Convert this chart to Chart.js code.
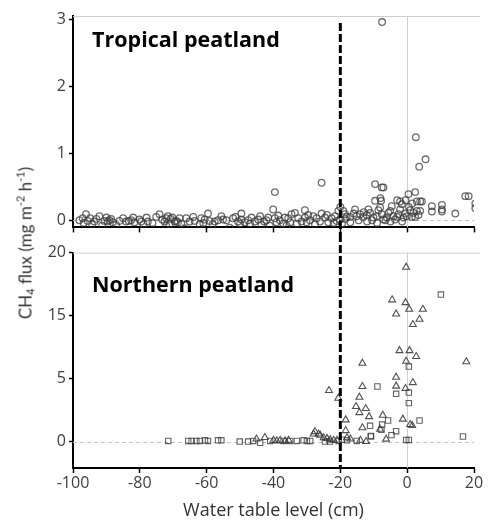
<!DOCTYPE html>
<html>
<head>
<meta charset="utf-8">
<script src="https://cdn.jsdelivr.net/npm/chart.js@4.4.1/dist/chart.umd.min.js"></script>
<style>
  html, body { margin:0; padding:0; background:#fff; }
  #wrap { position:relative; width:489px; height:520px; overflow:hidden; }
  canvas { position:absolute; left:0; }
  #ytitle { position:absolute; left:25px; top:243px; transform:translate(-50%,-50%) rotate(-90deg);
            font-family:Lato, "Open Sans", sans-serif; font-size:17px; color:#333; white-space:nowrap; line-height:1; }
  #ytitle sub, #ytitle sup { font-size:11px; }
  #ytitle sub { vertical-align:-3px; } #ytitle sup { vertical-align:7px; }
</style>
</head>
<body>
<div id="wrap">
  <canvas id="top" width="489" height="240" style="top:0"></canvas>
  <canvas id="bot" width="489" height="280" style="top:240px"></canvas>
  <div id="ytitle">CH<sub>4</sub> flux (mg m<sup>-2</sup> h<sup>-1</sup>)</div>
</div>
<script>
// ---------- data ----------
const panelTitles = ['Tropical peatland', 'Northern peatland'];
const xTickValues = [-100, -80, -60, -40, -20, 0, 20];
const xAxisTitle = 'Water table level (cm)';
const topTickValues = [0, 1, 2, 3];
const northTickValues = [0, 5, 10, 15];
const northTickLabels = ['0', '5', '15', '20'];
const thresholdX = -20;

// Tropical peatland (circles)
const tropicalX = [
 -98.1,-97.1,-96.1,-95.6,-94.9,-94.3,-93.6,-92.1,-91.3,-90.6,-89.6,-89.1,-88.1,-87.1,-86.1,-84.1,-83.3,-82.6,-81.6,-80.1,
 -79.6,-78.9,-77.6,-75.1,-74.1,-73.3,-72.6,-72.1,-72.1,-71.1,-70.3,-69.6,-69.1,-68.1,-67.6,-66.6,-66.1,-65.1,-63.6,-62.1,
 -61.6,-60.6,-59.6,-59.1,-57.6,-56.6,-55.1,-54.1,-53.1,-52.1,-50.6,-49.6,-49.6,-48.6,-47.6,-46.6,-45.6,-44.6,-43.6,-42.8,
 -42.1,-41.1,-40.1,-39.6,-39.1,-38.1,-37.1,-36.1,-35.6,-34.6,-33.6,-32.6,-31.6,-30.6,-30.6,-30.1,-29.1,-28.1,-27.1,-26.1,
 -25.6,-24.6,-23.6,-22.6,-21.6,-21.1,-20.6,-20.1,-39.6,-25.6,
 -19.1,-18.6,-18.1,-17.1,-15.6,-15.1,-14.1,-13.1,-12.1,-11.6,-11.1,-10.1,-9.1,-8.6,-8.1,-7.6,-7.1,-6.1,-5.6,-5.1,
 -4.6,-4.1,-3.6,-2.6,-2.1,-1.1,-0.6,-0.1,0.9,1.4,1.9,2.4,3.4,
 -20.0,-19.5,-18.5,-17.0,-16.0,-14.5,-13.0,-12.0,-10.5,-9.0,-6.5,-5.0,-3.0,-1.5,0.5,1.5,-0.5,-3.0,
 -9.6,-7.6,-7.1,-9.6,-8.0,-7.8,0.4,2.4,-2.1,-1.6,2.9,3.9,4.4,2.9,3.9,7.4,7.4,10.4,10.4,10.4,14.4,17.4,18.4,20.4,20.4,
 -7.5,2.6,5.5,3.6,
 -96.8,-93.0,-90.0,-85.0,-78.0,-76.2,-71.6,-68.6,-64.0,-58.2,-55.6,-51.4,-47.0,-44.0,-41.6,-38.6,-35.0,-33.0,-29.6,-27.6,
 -24.0,-22.0,-36.6,-50.0,-61.0,-70.8,-82.0,-88.6
];
const tropicalY = [
 0.00,0.03,0.09,-0.01,0.03,-0.06,-0.02,0.06,-0.08,-0.01,-0.02,0.00,-0.03,-0.07,-0.01,-0.02,-0.01,0.00,-0.03,0.01,
 -0.02,-0.06,-0.02,0.05,0.09,0.01,-0.02,-0.08,0.03,-0.06,0.04,-0.02,-0.01,0.03,-0.05,-0.12,0.03,-0.02,-0.01,-0.06,
 0.03,0.01,0.10,-0.01,-0.02,0.00,0.01,0.00,-0.11,0.03,-0.02,0.01,0.10,-0.03,0.00,0.04,-0.02,0.01,-0.07,-0.02,
 0.00,-0.08,0.16,0.03,-0.03,0.00,-0.05,-0.08,0.03,0.09,0.11,0.03,-0.02,0.15,0.04,-0.03,0.00,0.06,0.03,-0.02,
 0.10,0.04,-0.03,0.03,0.06,-0.01,0.14,0.01,0.42,0.56,
 0.14,0.09,0.05,0.05,0.16,0.06,0.09,0.05,0.08,0.16,0.11,0.04,0.06,0.15,0.19,0.09,0.01,0.04,0.11,0.14,
 0.21,0.06,0.01,0.09,0.16,0.04,0.10,0.06,0.15,0.05,0.11,0.05,0.08,
 0.20,-0.05,0.02,-0.03,0.10,0.00,0.12,-0.02,0.00,-0.04,0.00,-0.02,0.05,-0.02,0.20,0.25,0.30,0.30,
 0.54,0.49,0.49,0.29,0.33,0.29,0.39,0.42,0.28,0.24,0.28,0.28,0.28,0.14,0.14,0.21,0.13,0.23,0.16,0.13,0.10,0.36,0.36,0.25,0.18,
 2.96,1.24,0.91,0.80,
 -0.04,0.02,0.04,0.03,0.04,-0.04,0.06,-0.03,0.05,-0.06,0.06,0.05,-0.05,0.06,0.04,0.07,-0.03,-0.05,0.08,-0.06,
 0.08,-0.04,0.04,-0.05,-0.04,0.02,0.04,0.02
];

// Northern peatland (squares) — values in axis-position units
const northSquareX = [10.1,0.5,-8.9,-3.3,0.5,0.5,3.7,-5.7,-7.5,-11.1,-7.7,-3.3,-4.7,-10.9,16.7,-0.3,0.5,
 -71.5,-65.5,-64.5,-63.1,-62.0,-60.5,-59.6,-56.6,-55.6,-50.1,-47.6,-46.1,-44.0,-41.0,-37.0,-35.0,-33.0,-31.0,-30.0,-29.0,-24.6,-23.1,-20.5,-19.5,-18.0,-15.1,-10.8];
const northSquareY = [11.67,5.95,4.37,3.79,3.89,3.05,1.67,1.67,1.35,1.25,0.93,0.82,0.51,0.45,0.40,0.13,0.13,
 0.05,0.05,0.05,0.05,0.05,0.10,0.05,0.10,0.10,0.00,0.00,0.05,-0.10,0.05,0.05,0.05,0.05,0.10,0.05,0.05,0.00,0.00,0.05,0.15,0.10,0.05,0.40];

// Northern peatland (triangles)
const northTriX = [-0.3,-4.5,-0.5,0.6,-3.3,4.7,3.7,1.7,-2.3,0.7,2.7,-0.3,17.7,-13.4,-3.3,1.7,-13.4,-3.3,-0.5,-14.3,
 -15.3,-12.4,-14.3,-11.4,-7.3,-18.4,-1.3,0.9,1.5,-13.4,-18.4,-8.1,-23.4,-20.6,
 -6.3,-12.3,-45.1,-42.6,-40.0,-39.0,-38.0,-36.5,-35.5,-27.6,-28.0,-26.5,-26.0,-25.0,-24.0,-23.0,-22.0,-18.0,-17.0,-14.0,-21.0];
const northTriY = [13.84,11.25,11.03,10.50,10.13,10.50,9.71,9.29,7.22,7.22,6.75,6.38,6.33,6.22,5.11,4.68,4.37,4.40,4.21,3.52,
 2.78,2.62,2.30,1.98,2.09,1.72,1.78,1.35,1.27,1.09,0.87,0.98,4.05,3.44,
 0.19,0.00,0.20,0.32,0.10,0.05,0.10,0.05,0.10,0.79,0.60,0.60,0.50,0.30,0.25,0.15,0.10,0.30,0.20,0.10,0.10];

// ---------- helpers ----------
const FONT = '"Open Sans", Lato, sans-serif';
const pts = (xs, ys) => xs.map((x, i) => ({ x: x, y: ys[i] }));

function panelPlugin(title, baselineY, dashFrom, dashTo, dashOffset) {
  return {
    id: 'panel' + title.length,
    beforeDatasetsDraw(chart) {
      const { ctx, chartArea: a, scales } = chart;
      ctx.save();
      ctx.strokeStyle = '#cfcfcf'; ctx.lineWidth = 1;
      ctx.beginPath(); ctx.moveTo(a.left, a.top + 0.5); ctx.lineTo(a.right + 6, a.top + 0.5); ctx.stroke();
      const x0 = Math.round(scales.x.getPixelForValue(0)) + 0.5;
      ctx.beginPath(); ctx.moveTo(x0, a.top); ctx.lineTo(x0, a.bottom); ctx.stroke();
      const y0 = Math.round(scales.y.getPixelForValue(0)) + 0.5;
      ctx.setLineDash([4, 3]); ctx.strokeStyle = '#c4c4c4';
      ctx.beginPath(); ctx.moveTo(a.left, y0); ctx.lineTo(a.right, y0); ctx.stroke();
      ctx.restore();
    },
    afterDraw(chart) {
      const { ctx, chartArea: a, scales } = chart;
      ctx.save();
      const xd = scales.x.getPixelForValue(thresholdX);
      ctx.strokeStyle = '#000'; ctx.lineWidth = 3; ctx.setLineDash([8, 3]); ctx.lineDashOffset = dashOffset;
      ctx.beginPath(); ctx.moveTo(xd, dashFrom(a)); ctx.lineTo(xd, dashTo(a)); ctx.stroke();
      ctx.setLineDash([]);
      ctx.fillStyle = '#000'; ctx.font = 'bold 21.5px "Open Sans", Lato, sans-serif'; ctx.textBaseline = 'alphabetic';
      ctx.fillText(title, a.left + 19, baselineY);
      ctx.restore();
    }
  };
}

function xScale(showLabels, height) {
  return {
    type: 'linear', min: -100, max: 20, position: 'bottom',
    afterBuildTicks: s => { s.ticks = xTickValues.map(v => ({ value: v })); },
    afterFit: s => { s.height = height; },
    ticks: { display: showLabels, font: { family: FONT, size: 16 }, color: '#404040', padding: 1, maxRotation: 0 },
    grid: { color: 'rgba(0,0,0,0)', drawOnChartArea: false, drawTicks: true, tickLength: 5, tickColor: '#000', tickWidth: 1.5 },
    border: { display: true, color: '#000', width: 2 },
    title: { display: showLabels, text: xAxisTitle, font: { family: FONT, size: 18, lineHeight: 1 }, color: '#333', padding: 0 }
  };
}

function yScale(min, max, tickVals, labels) {
  return {
    type: 'linear', min: min, max: max,
    afterBuildTicks: s => { s.ticks = tickVals.map(v => ({ value: v })); },
    afterFit: s => { s.width = 73; },
    ticks: { font: { family: FONT, size: 16 }, color: '#404040', padding: 3,
             callback: (v) => labels ? labels[tickVals.indexOf(v)] : String(v) },
    grid: { color: 'rgba(0,0,0,0)', drawOnChartArea: false, drawTicks: true, tickLength: 4, tickColor: '#000', tickWidth: 1.5 },
    border: { display: true, color: '#000', width: 2 }
  };
}

const common = {
  responsive: false, animation: false, devicePixelRatio: 1,
  plugins: { legend: { display: false }, tooltip: { enabled: false } }
};

new Chart(document.getElementById('top'), {
  type: 'scatter',
  data: { datasets: [{
    data: pts(tropicalX, tropicalY), pointStyle: 'circle', pointRadius: 3.3, borderWidth: 1.3,
    borderColor: 'rgba(60,60,60,0.75)', backgroundColor: 'rgba(0,0,0,0)'
  }]},
  options: Object.assign({}, common, {
    layout: { padding: { top: 16, right: 15, bottom: 0, left: 0 } },
    scales: { x: xScale(false, 10), y: yScale(-0.107, 3.05, topTickValues, null) }
  }),
  plugins: [panelPlugin(panelTitles[0], 47, a => a.top + 7, a => 240, 0)]
});

new Chart(document.getElementById('bot'), {
  type: 'scatter',
  data: { datasets: [
    { data: pts(northSquareX, northSquareY), pointStyle: 'rect', pointRadius: 3.8, borderWidth: 1.1,
      borderColor: 'rgba(60,60,60,0.8)', backgroundColor: 'rgba(0,0,0,0)' },
    { data: pts(northTriX, northTriY), pointStyle: 'triangle', pointRadius: 4, borderWidth: 1.1,
      borderColor: 'rgba(50,50,50,0.85)', backgroundColor: 'rgba(0,0,0,0)' }
  ]},
  options: Object.assign({}, common, {
    layout: { padding: { top: 12, right: 15, bottom: 0, left: 0 } },
    scales: { x: xScale(true, 52), y: yScale(-2.1, 15, northTickValues, northTickLabels) }
  }),
  plugins: [panelPlugin(panelTitles[1], 52, a => 0, a => a.bottom, 6)]
});
</script>
</body>
</html>
